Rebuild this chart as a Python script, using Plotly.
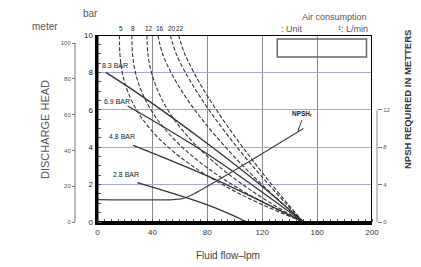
import plotly.graph_objects as go

# ---------------- data ----------------
flow_ticks = [0, 40, 80, 120, 160, 200]
bar_ticks = [0, 2, 4, 6, 8, 10]
meter_ticks = [0, 20, 40, 60, 80, 100]
npsh_ticks = [0, 4, 8, 12]

pressure_labels = ["8.3 BAR", "6.9 BAR", "4.8 BAR", "2.8 BAR"]
p83_x = [6, 31, 80, 115, 150]
p83_y = [8.0, 6.8, 4.2, 2.2, 0]
p69_x = [22, 50, 85, 150]
p69_y = [6.2, 5.0, 3.4, 0]
p48_x = [26, 82, 150]
p48_y = [4.1, 2.4, 0]
p28_x = [29, 82, 109]
p28_y = [2.1, 0.86, 0]

air_labels = ["5", "8", "12", "16", "20", "22"]
air_y = [10, 9, 8, 7, 6, 5, 4, 3, 2, 1, 0]
air5_x = [16, 16.3, 18, 21.9, 28.4, 38.1, 51.5, 69.1, 91, 117.8, 150]
air8_x = [25, 25.5, 27.6, 32.0, 38.9, 48.7, 61.7, 78.1, 98.2, 122.1, 150]
air12_x = [36, 36.7, 39.3, 44.1, 51.2, 60.8, 73.1, 88.0, 105.8, 126.4, 150]
air16_x = [44, 47.4, 53.5, 61.4, 70.8, 81.5, 93.3, 106.1, 119.8, 134.5, 150]
air20_x = [53, 57.3, 64.0, 72.1, 81.1, 91.1, 101.7, 112.9, 124.8, 137.1, 150]
air22_x = [59, 63.5, 70.2, 77.9, 86.6, 95.9, 105.8, 116.2, 127.0, 138.3, 150]

npsh_x = [0, 55, 62, 70, 150]
npsh_y = [2.4, 2.4, 2.5, 3.0, 10.0]

# ---------------- figure ----------------
W, H = 421, 267
FONT = "Liberation Sans, Arial, sans-serif"
LINE = "#333333"

fig = go.Figure()

pressure_sets = [(p83_x, p83_y), (p69_x, p69_y), (p48_x, p48_y), (p28_x, p28_y)]
for (xs, ys), name in zip(pressure_sets, pressure_labels):
    fig.add_trace(go.Scatter(x=xs, y=ys, mode="lines", name=name,
                             line=dict(color=LINE, width=1.3, shape="spline"),
                             hoverinfo="skip", showlegend=False))

air_sets = [air5_x, air8_x, air12_x, air16_x, air20_x, air22_x]
for xs, name in zip(air_sets, air_labels):
    fig.add_trace(go.Scatter(x=xs, y=air_y, mode="lines", name=name,
                             line=dict(color=LINE, width=1.1, dash="4px,2px", shape="spline"),
                             hoverinfo="skip", showlegend=False))

fig.add_trace(go.Scatter(x=npsh_x, y=npsh_y, mode="lines", yaxis="y3",
                         line=dict(color="#444444", width=1.2, shape="spline"),
                         hoverinfo="skip", showlegend=False))

# invisible trace to activate the meter axis
fig.add_trace(go.Scatter(x=[0], y=[0], yaxis="y2", mode="markers",
                         marker=dict(opacity=0), showlegend=False, hoverinfo="skip"))

x_dom = [97.5 / W, 372 / W]
y_dom = [(H - 222) / H, (H - 35) / H]

fig.update_layout(
    width=W, height=H,
    margin=dict(l=0, r=0, t=0, b=0, pad=0),
    paper_bgcolor="white", plot_bgcolor="white",
    font=dict(family=FONT, color="#333"),
    showlegend=False,
    hovermode=False,
    xaxis=dict(domain=x_dom, range=[0, 200], tickvals=flow_ticks, automargin=False,
               showline=True, linewidth=3, linecolor="black",
               showgrid=True, gridcolor="#8c8c8c", gridwidth=1,
               zeroline=False, ticks="", tickfont=dict(size=8, color="#333"),
               minor=dict(ticks="inside", dtick=5, ticklen=3, tickcolor="#555", showgrid=False)),
    yaxis=dict(domain=y_dom, range=[0, 10], tickvals=bar_ticks, automargin=False,
               showline=True, linewidth=3, linecolor="black",
               showgrid=True, gridcolor="#aaa6d2", gridwidth=1,
               zeroline=False, ticks="", tickfont=dict(size=8, color="#222"),
               minor=dict(ticks="inside", dtick=0.5, ticklen=3, tickcolor="#555", showgrid=False)),
    yaxis2=dict(overlaying="y", anchor="free", position=75 / W, side="left", automargin=False,
                range=[0, 104.5], tickvals=meter_ticks, ticks="outside", ticklen=3,
                tickcolor="#777", showgrid=False, showline=False, zeroline=False,
                tickfont=dict(size=6, color="#555")),
    yaxis3=dict(overlaying="y", anchor="free", position=377 / W, side="right", automargin=False,
                range=[0, 20], tickvals=npsh_ticks, ticks="outside", ticklen=4,
                tickcolor="#777", showgrid=False, showline=False, zeroline=False,
                tickfont=dict(size=6, color="#555")),
)

shapes = [
    dict(type="rect", xref="x", yref="y", x0=0, x1=200, y0=0, y1=10,
         line=dict(color="black", width=2), layer="above"),
    dict(type="line", xref="paper", yref="y2", x0=75 / W, x1=75 / W, y0=0, y1=100,
         line=dict(color="#777", width=1)),
    dict(type="line", xref="paper", yref="y3", x0=377 / W, x1=377 / W, y0=0, y1=12,
         line=dict(color="#888", width=1)),
    dict(type="rect", xref="x", yref="y", x0=131, x1=196, y0=8.82, y1=9.79,
         line=dict(color="#666", width=1.5), fillcolor="rgba(0,0,0,0)"),
]
fig.update_layout(shapes=shapes)


def txt(x, y, text, size, color="#555", angle=0, xanchor="center", xref="paper", yref="paper"):
    return dict(x=x, y=y, xref=xref, yref=yref, text=text, textangle=angle,
                showarrow=False, xanchor=xanchor, yanchor="middle",
                font=dict(size=size, color=color))


ann = []
label_pos = [(2, 8.35), (3.5, 6.45), (7, 4.55), (9.5, 2.55)]
for (lx, ly), t in zip(label_pos, pressure_labels):
    ann.append(txt(lx, ly, t, 7, "#222", xanchor="left", xref="x", yref="y"))

for xs, t in zip(air_sets, air_labels):
    ann.append(txt(xs[0] + 1.2, (H - 28) / H, t, 6.5, "#222", xref="x"))

ann.append(dict(x=146, y=9.7, xref="x", yref="y3", text="<b>NPSH<sub>r</sub></b>",
                showarrow=True, arrowhead=0, arrowwidth=1, arrowcolor="#333",
                ax=4, ay=-11, xanchor="center", yanchor="bottom",
                font=dict(size=6.5, color="#222")))

ann += [
    txt(45 / W, (H - 130) / H, "DISCHARGE HEAD", 11, "#555", angle=-90),
    txt(407 / W, (H - 100) / H, "<b>NPSH REQUIRED IN METTERS</b>", 9.5, "#333", angle=-90),
    txt(228 / W, (H - 255) / H, "Fluid flow–lpm", 10, "#444"),
    txt(45 / W, (H - 26) / H, "meter", 10, "#555"),
    txt(90 / W, (H - 13) / H, "bar", 10, "#555"),
    txt(369 / W, (H - 17) / H, "Air consumption", 9, "#555", xanchor="right"),
    txt(279 / W, (H - 29) / H, ": Unit", 9, "#555", xanchor="left"),
    txt(370 / W, (H - 29) / H, "¹: L/min", 9, "#555", xanchor="right"),
]
fig.update_layout(annotations=ann)

fig.write_html("out.html",
               config={"displayModeBar": False, "staticPlot": True},
               post_script="document.body.style.margin='0';document.body.style.overflow='hidden';")
